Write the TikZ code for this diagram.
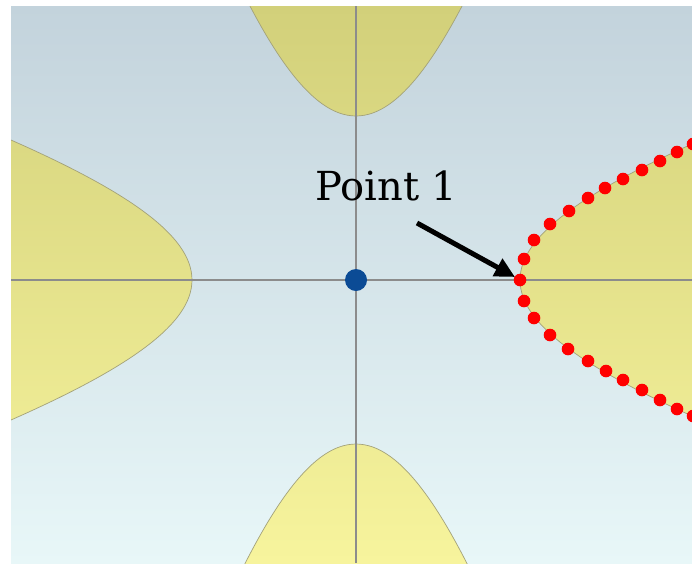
\documentclass[tikz,border=0pt]{standalone}
\usepackage{fontspec}
\setmainfont{DejaVu Serif}
\usetikzlibrary{arrows.meta}
\definecolor{bgtop}{HTML}{C3D3DC}
\definecolor{bgbot}{HTML}{E8F7F8}
\definecolor{yeltop}{HTML}{D2D07A}
\definecolor{yelbot}{HTML}{F7F49D}
\definecolor{axiscol}{HTML}{8C8C8C}
\definecolor{edgecol}{HTML}{A3A27A}
\definecolor{ptblue}{HTML}{0B4B95}
\definecolor{ptred}{HTML}{FF0000}
\newcommand\lobepath{plot[domain=-190:190, samples=91, smooth] ({164 + (-93.03 + 10*sqrt(86.55+(0.05807*\x)^2))/0.1686}, \x) -- cycle}
\tikzset{
  axisline/.style={draw=axiscol, line width=2pt},
  lobeedge/.style={draw=edgecol, line width=0.7pt},
  reddot/.style={fill=ptred},
}
\begin{document}
\begin{tikzpicture}[x=1pt,y=-1pt]
\useasboundingbox (0,0) rectangle (692,563);
\begin{scope}
\clip (11,6) rectangle (692,563);
\shade[top color=bgtop, bottom color=bgbot] (11,6) rectangle (692,563);
\foreach \ang in {0,90,180,270}{
  \begin{scope}
    \clip[shift={(356,280)}, rotate=\ang] \lobepath;
    \shade[top color=yeltop, bottom color=yelbot] (11,6) rectangle (692,563);
  \end{scope}
  \draw[lobeedge, shift={(356,280)}, rotate=\ang] \lobepath;
}
\coordinate (xl) at (11,280);
\coordinate (xr) at (692,280);
\coordinate (yt) at (356,6);
\coordinate (yb) at (356,563);
\draw[axisline] (xl) -- (xr);
\draw[axisline] (yt) -- (yb);
\foreach \p in {(520,280),(524,259),(534,240),(550,224),(569,211),(588,198),(605,188),(623,179),(642,170),(660,161),(677,152),(693,144),
                (524,301),(534,318),(550,335),(568,349),(588,361),(606,371),(623,380),(642,390),(660,400),(677,409),(693,416)}
  \fill[reddot] \p circle[radius=6.3pt];
\node[circle, fill=ptblue, minimum size=22pt, inner sep=0pt] (origin) at (356,280) {};
\node[anchor=base west, inner sep=0pt, font=\fontsize{40}{40}\selectfont] (lbl) at (315,200) {Point 1};
\coordinate (arrS) at (417,223);
\coordinate (arrE) at (515,277);
\draw[line width=5pt, -{Triangle[length=20pt,width=19pt]}] (arrS) -- (arrE);
\end{scope}
\end{tikzpicture}
\end{document}
